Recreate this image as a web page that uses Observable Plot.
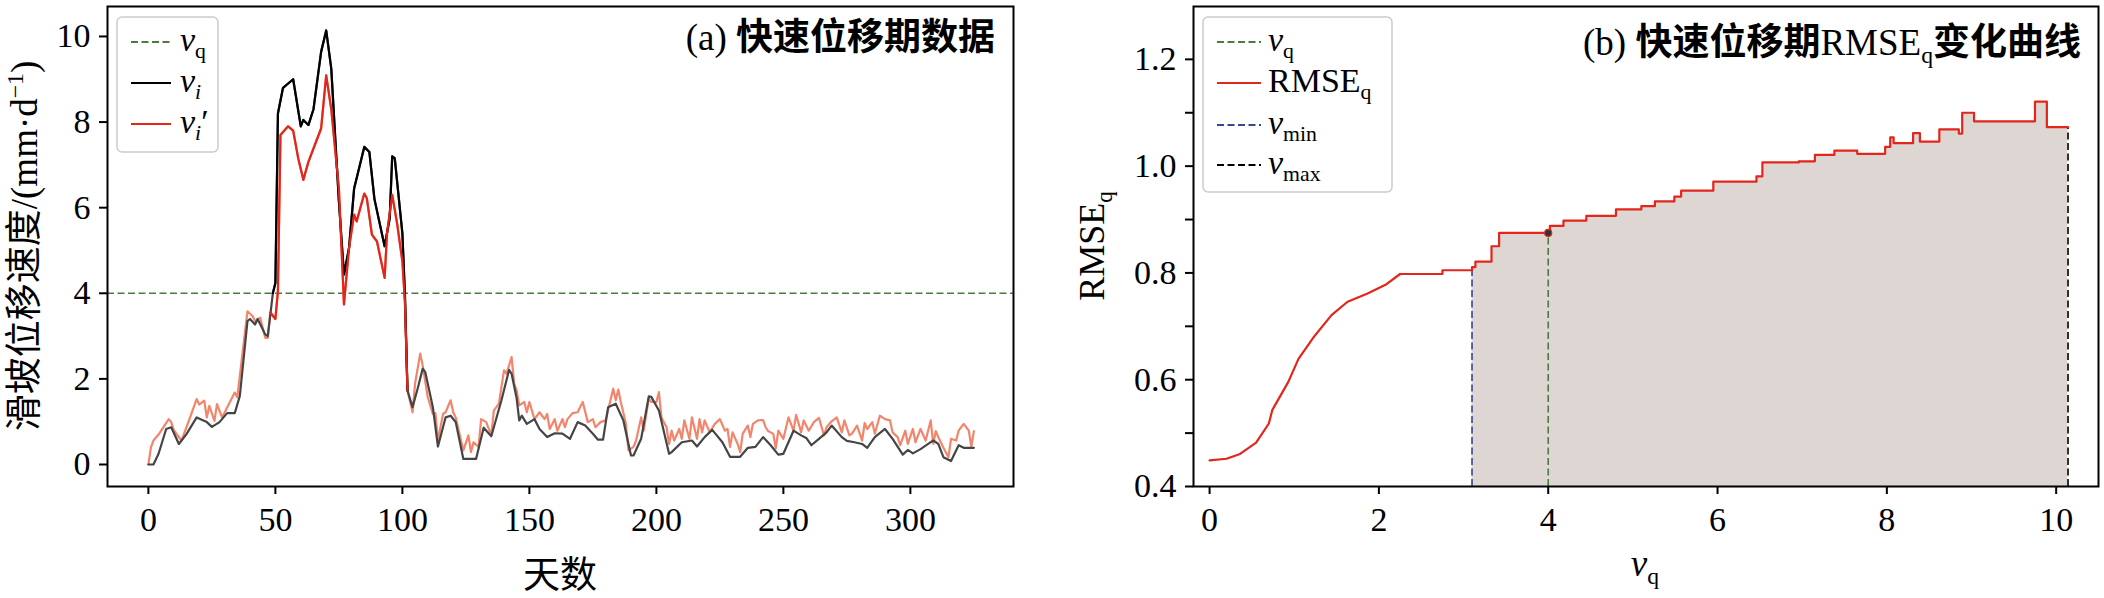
<!DOCTYPE html>
<html><head><meta charset="utf-8">
<script src="https://cdn.jsdelivr.net/npm/d3@7"></script>
<script src="https://cdn.jsdelivr.net/npm/@observablehq/plot@0.6"></script>
<style>
body{margin:0;background:#fff;}
#wrap{display:flex;width:2104px;height:598px;overflow:hidden;}
#wrap svg{display:block;flex:none;}
#wrap svg text{font-family:"Liberation Serif","Times New Roman","Noto Sans CJK SC",serif;}
</style></head><body><div id="wrap"></div>
<script>
// ---------- data: panel (a) ----------
const viDays = [0,2,4,7,9,12,15,19,23,25,28,31,34,36,39,40,42,43,46,47,49,50,51,53,57,60,61,63,65,68,70,72,75,77,79,81,85,87,89,93,95,96,97,100,101,102,104,106,108,109,112,114,117,119,121,124,129,132,135,139,142,143,145,146,147,149,152,154,157,160,163,166,169,172,175,177,179,181,184,187,190,191,194,197,198,201,205,206,210,214,216,219,222,226,229,233,236,239,242,245,248,250,254,257,259,261,264,267,269,273,275,278,281,283,286,290,293,297,299,301,304,307,309,311,313,316,319,321,325];
const viVals = [0,0,0.25,0.83,0.87,0.48,0.71,1.1,0.99,0.88,0.99,1.2,1.2,1.6,3.35,3.4,3.27,3.4,3.04,3.0,4.0,4.24,8.2,8.8,9.0,7.9,8.05,7.93,8.3,9.64,10.14,9.25,6.15,4.44,5.06,6.45,7.42,7.3,6.2,5.1,5.75,7.2,7.15,5.4,3.97,1.73,1.34,1.77,2.24,2.16,1.34,0.42,1.1,1.14,0.99,0.13,0.13,0.86,0.66,1.5,2.21,2.12,1.54,1.03,1.14,0.95,1.06,0.83,0.64,0.73,0.72,0.6,0.99,0.91,0.72,0.58,0.58,1.34,1.42,1.03,0.21,0.21,0.6,1.59,1.58,1.26,0.25,0.29,0.52,0.56,0.42,0.64,0.81,0.52,0.18,0.18,0.39,0.41,0.64,0.45,0.23,0.25,0.79,0.68,0.62,0.45,0.6,0.75,0.91,0.64,0.55,0.52,0.48,0.39,0.64,0.83,0.6,0.23,0.34,0.26,0.36,0.48,0.56,0.48,0.17,0.08,0.45,0.39,0.39];
const vipDays = [0,1,2,4,8,9,10,13,15,19,20,22,23,24,26,27,29,31,34,35,39,41,42,44,46,47,48,50,51,52,55,57,59,61,63,66,68,70,72,75,77,79,81,82,85,86,88,90,93,94,96,98,100,101,102,104,105,107,108,110,112,113,114,116,117,119,120,121,124,126,127,128,130,131,133,135,136,138,140,141,143,144,145,146,148,149,150,152,154,156,157,158,160,161,163,164,165,167,169,171,173,175,176,178,180,183,184,185,186,188,189,191,192,194,195,197,198,200,201,202,204,205,206,207,209,210,211,213,214,216,217,218,219,221,223,225,227,228,229,230,232,233,234,236,237,238,240,242,243,244,246,247,248,250,252,254,255,257,258,260,262,264,266,267,269,271,273,274,276,277,279,281,282,283,285,286,288,290,292,293,295,296,298,299,301,302,304,306,308,309,310,311,313,315,316,318,319,321,323,324,325];
const vipVals = [0,0.4,0.56,0.7,1.06,0.99,0.8,0.56,0.87,1.53,1.4,1.49,1.1,1.37,1.02,1.41,1.1,1.33,1.68,1.57,3.58,3.47,3.35,3.43,2.96,2.96,3.55,3.4,4.05,7.7,7.9,7.8,7.15,6.65,7.07,7.54,7.85,9.09,8.3,6.45,3.74,5.06,5.84,5.68,6.33,6.22,5.37,5.21,4.36,5.43,6.3,5.6,4.74,3.8,1.73,1.22,1.89,2.59,2.31,1.57,1.18,1.2,0.56,1.18,1.22,1.5,1.22,1.1,0.33,0.68,0.29,0.52,0.41,1.06,0.99,0.68,1.26,1.42,2.2,2.12,2.51,1.89,1.73,1.38,1.46,1.22,1.46,1.06,1.22,1.06,1.18,0.83,1.06,0.79,1.06,0.87,1.06,1.2,1.22,1.46,0.99,1.06,0.87,0.99,1.03,1.77,1.5,1.75,1.46,0.95,0.33,0.41,0.56,1.1,0.79,1.54,1.46,1.46,1.69,1.1,0.87,0.48,0.79,0.56,0.83,0.6,1.03,0.6,1.1,0.6,1.06,0.75,1.03,0.75,0.95,1.06,0.79,0.83,0.41,0.75,0.48,0.29,0.72,0.91,0.64,0.95,1.03,1.04,0.87,0.78,0.72,0.38,0.79,0.6,1.1,0.79,1.16,0.75,1.03,0.79,0.99,1.09,0.68,0.87,1.01,1.1,0.75,1.03,0.68,0.72,0.91,0.56,0.97,0.83,0.99,0.72,1.14,1.06,1.03,0.75,0.64,0.45,0.79,0.48,0.83,0.52,0.83,0.56,1.03,0.48,0.78,0.64,0.39,0.17,0.6,0.56,0.79,0.95,0.79,0.41,0.78];
const vqA = 4.0;              // threshold shown in (a)
const fastPeriod = [48, 102]; // days of the fast-displacement period
const xTicksA = [0,50,100,150,200,250,300];
const yTicksA = [0,2,4,6,8,10];

// ---------- data: panel (b) ----------
const rmseV = [0,0.2,0.36,0.55,0.7,0.74,0.93,1.05,1.24,1.44,1.63,1.86,2.09,2.25,2.71,2.75,3.1,3.14,3.25,3.33,3.42,4.02,4.18,4.45,4.8,5.1,5.26,5.49,5.57,5.95,6.26,6.46,6.53,6.96,7.15,7.38,7.65,7.98,8.04,8.08,8.31,8.39,8.62,8.85,8.89,9.03,9.75,9.89,10.14];
const rmseE = [0.449,0.452,0.461,0.482,0.518,0.543,0.596,0.639,0.682,0.721,0.746,0.761,0.779,0.798,0.798,0.805,0.811,0.821,0.821,0.85,0.875,0.888,0.898,0.907,0.919,0.925,0.934,0.943,0.954,0.971,0.971,0.981,1.007,1.009,1.021,1.029,1.023,1.036,1.054,1.043,1.062,1.046,1.069,1.061,1.1,1.084,1.121,1.073,1.073];
const smoothEnd = 2.25;       // curve is smooth up to here, stepped after
const vMin = 3.1, vQ = 4.0, vMax = 10.14;
const rmseAtVq = 0.875;
const xTicksB = [0,2,4,6,8,10];
const yTicksB = [0.4,0.5,0.6,0.7,0.8,0.9,1.0,1.1,1.2];

// ---------- styling ----------
const serif = "Liberation Serif, Times New Roman, Noto Sans CJK SC, serif";
const C = {green:"#4d7a42", black:"#000000", grey:"#454545", red:"#e3261c", salmon:"#f2856b", blue:"#3b4590", fill:"#ddd6d3"};
const DASH = "7,3.5";
const W = 1052, H = 598;

const viRows = viDays.map((d,i)=>({day:d, v:viVals[i]}));
const vipRows = vipDays.map((d,i)=>({day:d, v:vipVals[i]}));
const inFast = r => r.day >= fastPeriod[0] && r.day <= fastPeriod[1];
const rmseRows = rmseV.map((x,i)=>({x, y:rmseE[i]}));

const wrap = document.getElementById("wrap");
const axisStyle = {tickSize: 8, label: null, fontSize: 34, fontFamily: serif, strokeWidth: 2};

const chartA = Plot.plot({
  width: W, height: H,
  marginLeft: 107, marginRight: 39, marginTop: 6, marginBottom: 112,
  style: {fontFamily: serif, fontSize: "34px", background: "white", color: "black", overflow: "visible"},
  x: {domain: [-16.1, 340.6]},
  y: {domain: [-0.514, 10.7]},
  marks: [
    Plot.ruleY([vqA], {stroke: C.green, strokeWidth: 1.6, strokeDasharray: DASH}),
    Plot.line(vipRows, {x: "day", y: "v", stroke: C.salmon, strokeWidth: 2.2}),
    Plot.line(viRows, {x: "day", y: "v", stroke: C.grey, strokeWidth: 2.2}),
    Plot.line(viRows.filter(inFast), {x: "day", y: "v", stroke: C.black, strokeWidth: 2.2}),
    Plot.line(vipRows.filter(inFast), {x: "day", y: "v", stroke: C.red, strokeWidth: 2.2}),
    Plot.axisX({...axisStyle, ticks: xTicksA, tickPadding: 12}),
    Plot.axisY({...axisStyle, ticks: yTicksA, tickPadding: 9}),
    Plot.frame({stroke: "black", strokeWidth: 2})
  ]
});

const chartB = Plot.plot({
  width: W, height: H,
  marginLeft: 141, marginRight: 6, marginTop: 6, marginBottom: 112,
  style: {fontFamily: serif, fontSize: "34px", background: "white", color: "black", overflow: "visible"},
  x: {domain: [-0.19, 10.5]},
  y: {domain: [0.4, 1.299]},
  marks: [
    Plot.areaY(rmseRows.filter(r => r.x >= vMin && r.x <= vMax), {x: "x", y1: 0.4, y2: "y", curve: "step-after", fill: C.fill}),
    Plot.ruleX([vMin], {y1: 0.4, y2: rmseE[rmseV.indexOf(vMin)], stroke: C.blue, strokeWidth: 1.6, strokeDasharray: DASH}),
    Plot.ruleX([vQ], {y1: 0.4, y2: rmseAtVq, stroke: C.green, strokeWidth: 1.6, strokeDasharray: DASH}),
    Plot.ruleX([vMax], {y1: 0.4, y2: rmseE[rmseE.length-1], stroke: C.black, strokeWidth: 1.6, strokeDasharray: DASH}),
    Plot.line(rmseRows.filter(r => r.x <= smoothEnd), {x: "x", y: "y", stroke: C.red, strokeWidth: 2.2}),
    Plot.line(rmseRows.filter(r => r.x >= smoothEnd), {x: "x", y: "y", curve: "step-after", stroke: C.red, strokeWidth: 2.2}),
    Plot.dot([{x: vQ, y: rmseAtVq}], {x: "x", y: "y", r: 3.5, fill: "#333", stroke: C.red, strokeWidth: 1.2}),
    Plot.axisX({...axisStyle, ticks: xTicksB, tickPadding: 12}),
    Plot.axisY({...axisStyle, ticks: yTicksB, tickPadding: 9,
      tickFormat: d => (Math.round(d*10) % 2 === 0 ? d.toFixed(1) : "")}),
    Plot.frame({stroke: "black", strokeWidth: 2})
  ]
});

wrap.appendChild(chartA);
wrap.appendChild(chartB);

// ---------- rich text helper (one <text> per label, tspans for sub/superscripts) ----------
function rich(svg, x, y, parts, o) {
  const size = o.size;
  const t = svg.append("text").attr("x", x).attr("y", y)
    .attr("font-family", serif).attr("font-size", size)
    .attr("text-anchor", "start").attr("fill", "#000");
  let shift = 0;
  for (const p of parts) {
    const ts = t.append("tspan").text(p.t);
    const target = p.sub ? size*0.22 : p.sup ? -size*0.38 : 0;
    if (target !== shift) { ts.attr("dy", target - shift); shift = target; }
    if (p.sub || p.sup) ts.attr("font-size", size*0.64);
    if (p.italic) ts.attr("font-style", "italic");
    if (p.bold) ts.attr("font-weight", 600);
  }
  const len = t.node().getComputedTextLength();
  const x0 = o.anchor === "end" ? x - len : o.anchor === "middle" ? x - len/2 : x;
  t.attr("x", x0);
  if (o.rotate) t.attr("transform", `rotate(-90 ${x} ${y})`);
  return t;
}
function legend(svg, box, rows) {
  const g = svg.append("g");
  g.append("rect").attr("x", box.x).attr("y", box.y).attr("width", box.w).attr("height", box.h)
    .attr("rx", 5).attr("fill", "white").attr("fill-opacity", 0.85).attr("stroke", "#cccccc").attr("stroke-width", 1.5);
  for (const r of rows) {
    g.append("line").attr("x1", box.lx1).attr("x2", box.lx2).attr("y1", r.y).attr("y2", r.y)
      .attr("stroke", r.color).attr("stroke-width", 2.2).attr("stroke-dasharray", r.dash ? DASH : null);
    rich(g, box.tx, r.y + 9, r.parts, {size: 34});
  }
}

const sa = d3.select(chartA), sb = d3.select(chartB);

// panel (a) texts
rich(sa, 995, 50, [{t:"(a) "}, {t:"快速位移期数据", bold:true}], {size: 37, anchor: "end"});
rich(sa, 560, 588, [{t:"天数"}], {size: 37, anchor: "middle"});
rich(sa, 37, 246, [{t:"滑坡位移速度/(mm·d"}, {t:"−1", sup:true}, {t:")"}], {size: 37, anchor: "middle", rotate: true});
legend(sa, {x:117, y:17, w:101, h:135, lx1:131, lx2:171, tx:180}, [
  {y:42, color:C.green, dash:true, parts:[{t:"v", italic:true},{t:"q", sub:true}]},
  {y:83, color:C.black, parts:[{t:"v", italic:true},{t:"i", sub:true, italic:true}]},
  {y:124, color:C.red, parts:[{t:"v", italic:true},{t:"i", sub:true, italic:true},{t:"′"}]}
]);

// panel (b) texts
rich(sb, 1029, 55, [{t:"(b) "},{t:"快速位移期", bold:true},{t:"RMSE"},{t:"q", sub:true},{t:"变化曲线", bold:true}], {size: 37, anchor: "end"});
rich(sb, 593, 576, [{t:"v", italic:true},{t:"q", sub:true}], {size: 37, anchor: "middle"});
rich(sb, 52, 246, [{t:"RMSE"},{t:"q", sub:true}], {size: 36, anchor: "middle", rotate: true});
legend(sb, {x:151, y:17, w:189, h:175, lx1:165, lx2:209, tx:216}, [
  {y:42, color:C.green, dash:true, parts:[{t:"v", italic:true},{t:"q", sub:true}]},
  {y:83, color:C.red, parts:[{t:"RMSE"},{t:"q", sub:true}]},
  {y:125, color:C.blue, dash:true, parts:[{t:"v", italic:true},{t:"min", sub:true}]},
  {y:165, color:C.black, dash:true, parts:[{t:"v", italic:true},{t:"max", sub:true}]}
]);
</script>
</body></html>
